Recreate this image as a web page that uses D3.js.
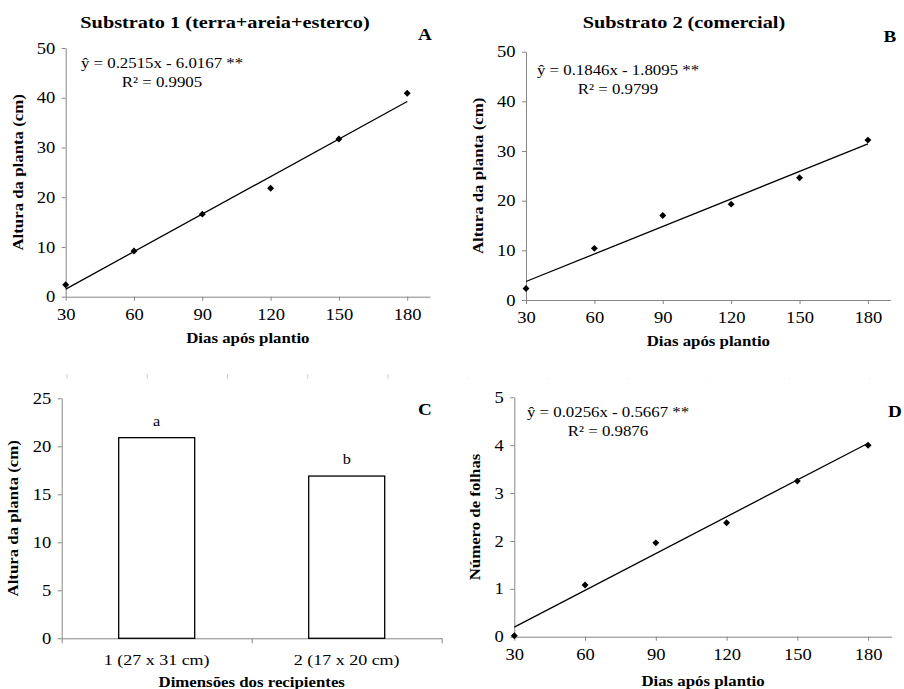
<!DOCTYPE html>
<meta charset="utf-8">
<style>
body { margin: 0; background: #fff; }
</style>
<body>
<script src="https://d3js.org/d3.v7.min.js"></script>
<script>

// data
var days = [30, 60, 90, 120, 150, 180];
var alturaSub1 = [2.4, 9.2, 16.6, 21.8, 31.7, 40.9];
var alturaSub2 = [2.3, 10.4, 17.0, 19.3, 24.6, 32.2];
var numFolhas = [0.02, 1.08, 1.96, 2.38, 3.25, 4.0];

// fitted lines (from the printed equations)
var slopes = [0.2515, 0.1846, 0.0256];
var intercepts = [-6.0167, -1.8095, -0.5667];
var r2 = ["0.9905", "0.9799", "0.9876"];

var recipientes = ["1 (27 x 31 cm)", "2 (17 x 20 cm)"];
var alturaRecip = [20.9, 16.9];
var letrasRecip = ["a", "b"];

var xTicks = [30, 60, 90, 120, 150, 180];
var yTicksAltura = [0, 10, 20, 30, 40, 50];
var yTicksBar = [0, 5, 10, 15, 20, 25];
var yTicksFolhas = [0, 1, 2, 3, 4, 5];

var SERIF = "'Liberation Serif', 'Times New Roman', Times, serif";
var STRETCH = 1.16;   // the original figure is a bit wider than tall

var svg = d3.select("body").append("svg")
    .attr("width", 904)
    .attr("height", 689);

// helper for text elements
function txt(g, x, y, s, size, bold, rot) {
  return g.append("text")
      .attr("transform", "translate(" + x + "," + y + ")" + (rot ? " rotate(-90)" : "") + " scale(" + STRETCH + ",1)")
      .attr("text-anchor", "middle")
      .style("font-family", SERIF)
      .style("font-size", size + "px")
      .style("font-weight", bold ? "bold" : "normal")
      .style("fill", "#000")
      .text(s);
}

function styleAxis(sel) {
  sel.attr("font-family", SERIF).attr("font-size", 16);
  sel.selectAll("path, line").attr("stroke", "#868686");
  sel.selectAll("text").style("font-family", SERIF).style("font-size", "16px")
      .attr("fill", "#000").attr("transform", "scale(" + STRETCH + ",1)");
}

// scatter + trend line panel
function scatterPanel(o) {
  var x = d3.scaleLinear().domain([30, 190]).range([o.left, o.right]);
  var y = d3.scaleLinear().domain(o.yDomain).range([o.bottom, o.top]);
  var g = svg.append("g");

  g.append("g")
      .attr("transform", "translate(0," + o.bottom + ")")
      .call(d3.axisBottom(x).tickValues(xTicks).tickFormat(d3.format("d"))
        .tickSizeInner(4).tickSizeOuter(0).tickPadding(8))
      .call(styleAxis);
  g.append("g")
      .attr("transform", "translate(" + o.left + ",0)")
      .call(d3.axisLeft(y).tickValues(o.yTicks).tickFormat(d3.format("d"))
        .tickSizeInner(4).tickSizeOuter(0).tickPadding(5))
      .call(styleAxis);

  // trend line
  var a = slopes[o.fit], b = intercepts[o.fit];
  g.append("line")
      .attr("x1", x(30)).attr("y1", y(a * 30 + b))
      .attr("x2", x(180)).attr("y2", y(a * 180 + b))
      .attr("stroke", "#000").attr("stroke-width", 1.3);

  // diamonds
  g.selectAll(".pt").data(o.values).enter().append("path")
      .attr("class", "pt")
      .attr("d", d3.symbol(d3.symbolSquare, 24))
      .attr("transform", function(d, i) { return "translate(" + x(days[i]) + "," + y(d) + ") rotate(45)"; })
      .attr("fill", "#000");

  // equation
  txt(g, o.eqX, o.eqY, "ŷ = " + a + "x - " + Math.abs(b).toFixed(4) + " **", 14.5);
  txt(g, o.eqX, o.eqY + 19, "R² = " + r2[o.fit], 14.5);

  // axis titles
  txt(g, (o.left + o.right) / 2, o.xTitleY, "Dias após plantio", 14.5, true);
  txt(g, o.yTitleX, (o.top + o.bottom) / 2, o.yTitle, 14.5, true, true);

  txt(g, o.letterX, o.letterY, o.letter, 16.5, true);
}

scatterPanel({left: 65.7, right: 430, top: 48, bottom: 296.7, yDomain: [0, 50], yTicks: yTicksAltura,
  values: alturaSub1, fit: 0, eqX: 162, eqY: 68, xTitleY: 343, yTitleX: 23,
  yTitle: "Altura da planta (cm)", letter: "A", letterX: 425, letterY: 40});
scatterPanel({left: 526, right: 890.7, top: 51.7, bottom: 300, yDomain: [0, 50], yTicks: yTicksAltura,
  values: alturaSub2, fit: 1, eqX: 618, eqY: 75, xTitleY: 346, yTitleX: 483,
  yTitle: "Altura da planta (cm)", letter: "B", letterX: 890, letterY: 42});
scatterPanel({left: 514.3, right: 891.7, top: 397.3, bottom: 636.7, yDomain: [0, 5], yTicks: yTicksFolhas,
  values: numFolhas, fit: 2, eqX: 608, eqY: 417, xTitleY: 686, yTitleX: 480,
  yTitle: "Número de folhas", letter: "D", letterX: 895, letterY: 417});

// panel titles
txt(svg, 225, 28, "Substrato 1 (terra+areia+esterco)", 17.5, true);
txt(svg, 684, 28, "Substrato 2 (comercial)", 17.5, true);

// bar panel C
var cLeft = 61.7, cRight = 441.7, cTop = 398.3, cBottom = 638.3;
var xc = d3.scaleBand().domain(recipientes).range([cLeft, cRight]).paddingInner(0.6).paddingOuter(0.3);
var xcAxis = d3.scalePoint().domain([0, 1, 2]).range([cLeft, cRight]);
var yc = d3.scaleLinear().domain([0, 25]).range([cBottom, cTop]);
var gc = svg.append("g");

gc.append("g")
    .attr("transform", "translate(" + cLeft + ",0)")
    .call(d3.axisLeft(yc).tickValues(yTicksBar).tickFormat(d3.format("d"))
      .tickSizeInner(4).tickSizeOuter(0).tickPadding(5))
    .call(styleAxis);
var ax = gc.append("g")
    .attr("transform", "translate(0," + cBottom + ")")
    .call(d3.axisBottom(xcAxis).tickValues([0, 1, 2]).tickSizeInner(5).tickSizeOuter(0).tickFormat(""))
    .call(styleAxis);
recipientes.forEach(function(d) {
  txt(ax, xc(d) + xc.bandwidth() / 2, 27, d, 15.5);
});

gc.selectAll(".bar").data(alturaRecip).enter().append("rect")
    .attr("class", "bar")
    .attr("x", function(d, i) { return xc(recipientes[i]); })
    .attr("width", xc.bandwidth())
    .attr("y", function(d) { return yc(d); })
    .attr("height", function(d) { return cBottom - yc(d); })
    .attr("fill", "#fff").attr("stroke", "#000").attr("stroke-width", 1.3);

alturaRecip.forEach(function(d, i) {
  txt(gc, xc(recipientes[i]) + xc.bandwidth() / 2, yc(d) - 12, letrasRecip[i], 14);
});

txt(gc, (cLeft + cRight) / 2, 687, "Dimensões dos recipientes", 14.5, true);
txt(gc, 18, (cTop + cBottom) / 2, "Altura da planta (cm)", 14.5, true, true);
txt(gc, 425, 415, "C", 16.5, true);

// faint leftover tick rows between the panels
var ghostC = d3.scaleLinear().domain([0, 4]).range([67, 388]);
svg.selectAll(".ghostC").data(d3.range(5)).enter().append("line")
    .attr("x1", ghostC).attr("x2", ghostC).attr("y1", 374).attr("y2", 379)
    .attr("stroke", "#d0d0d0");
var ghostD = d3.scaleLinear().domain([0, 5]).range([468, 869]);
svg.selectAll(".ghostD").data(d3.range(6)).enter().append("rect")
    .attr("x", ghostD).attr("y", 378).attr("width", 1).attr("height", 1)
    .attr("fill", "#e0e0e0");

</script>
</body>
